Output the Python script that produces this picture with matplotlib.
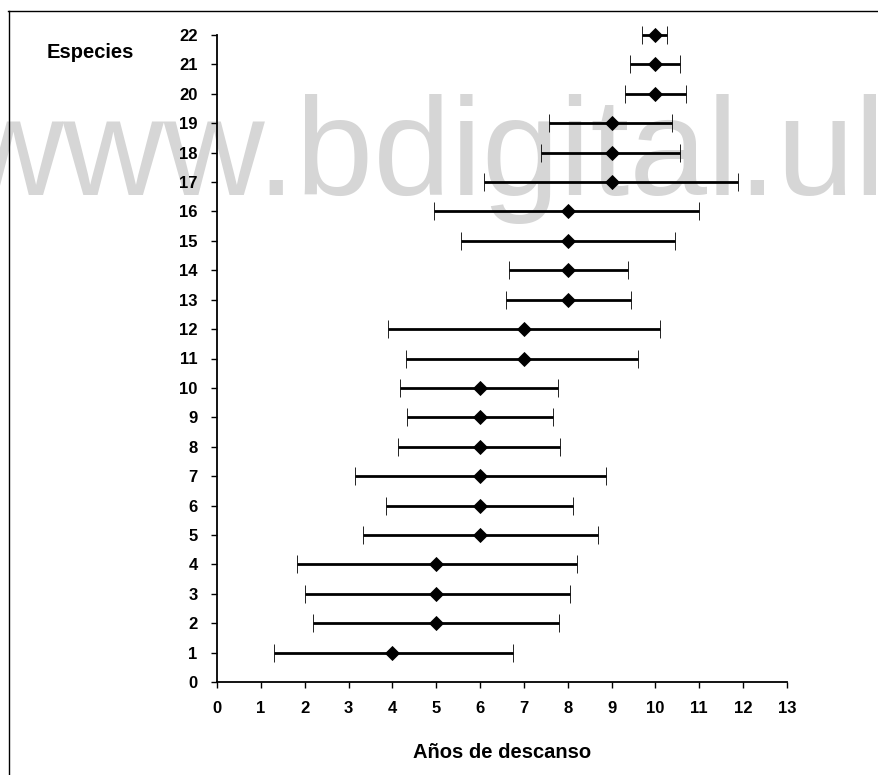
import matplotlib
matplotlib.use("Agg")
import matplotlib.pyplot as plt
from matplotlib.lines import Line2D

plt.rcParams['font.family'] = ['Liberation Sans', 'DejaVu Sans']

# ---- data ----
especies = list(range(1, 23))
media = [4, 5, 5, 5, 6, 6, 6, 6, 6, 6, 7, 7, 8, 8, 8, 8, 9, 9, 9, 10, 10, 10]
inferior = [1.31, 2.20, 2.01, 1.83, 3.34, 3.86, 3.15, 4.13, 4.33, 4.18, 4.32,
            3.89, 6.60, 6.65, 5.56, 4.96, 6.09, 7.40, 7.58, 9.31, 9.42, 9.70]
superior = [6.75, 7.80, 8.04, 8.22, 8.69, 8.12, 8.87, 7.83, 7.67, 7.77, 9.61,
            10.10, 9.45, 9.38, 10.45, 10.99, 11.89, 10.57, 10.37, 10.69, 10.56, 10.27]
x_ticks = list(range(0, 14))
y_ticks = list(range(0, 23))
titulo_y = "Especies"
titulo_x = "Años de descanso"
marca_agua = "www.bdigital.ul"

W, H = 879, 775
fig = plt.figure(figsize=(W / 100, H / 100), dpi=100)
fig.patch.set_facecolor('white')

# watermark (behind everything)
fig.text(-38 / W, 1 - 195 / H, marca_agua, fontsize=100.5, color='#d6d6d6',
         ha='left', va='baseline', zorder=-5)

ax = fig.add_axes([217 / W, 1 - 682 / H, (787 - 217) / W, (682 - 35) / H])
ax.patch.set_alpha(0)

err_lo = [m - lo for m, lo in zip(media, inferior)]
err_hi = [hi - m for m, hi in zip(media, superior)]
ax.errorbar(media, especies, xerr=[err_lo, err_hi], fmt='D', color='black',
            ecolor='black', elinewidth=2.0, capsize=6.5, capthick=2.6,
            markersize=7.2, markeredgewidth=0.6, clip_on=False, zorder=3)

ax.set_xlim(0, 13)
ax.set_ylim(0, 22)
ax.set_xticks(x_ticks)
ax.set_yticks(y_ticks)
ax.set_xticklabels([str(v) for v in x_ticks], fontsize=12, fontweight='bold')
ax.set_yticklabels([str(v) for v in y_ticks], fontsize=12, fontweight='bold')
ax.tick_params(axis='both', direction='out', length=4, width=1.0, colors='black')
ax.tick_params(axis='y', pad=10)
ax.tick_params(axis='x', pad=10)
for s in ['top', 'right']:
    ax.spines[s].set_visible(False)
for s in ['left', 'bottom']:
    ax.spines[s].set_linewidth(1.3)
    ax.spines[s].set_color('black')

fig.text(90 / W, 1 - 53 / H, titulo_y, fontsize=14.5, fontweight='bold',
         ha='center', va='center')
fig.text(502 / W, 1 - 752 / H, titulo_x, fontsize=14.5, fontweight='bold',
         ha='center', va='center')

# frame lines (top and left) as in the scanned figure
fig.add_artist(Line2D([8 / W, 1.0], [1 - 11 / H, 1 - 11 / H], color='black',
                      linewidth=1.0, transform=fig.transFigure))
fig.add_artist(Line2D([9 / W, 9 / W], [1 - 11 / H, 0.0], color='black',
                      linewidth=1.0, transform=fig.transFigure))

fig.savefig('out.png', dpi=100)
